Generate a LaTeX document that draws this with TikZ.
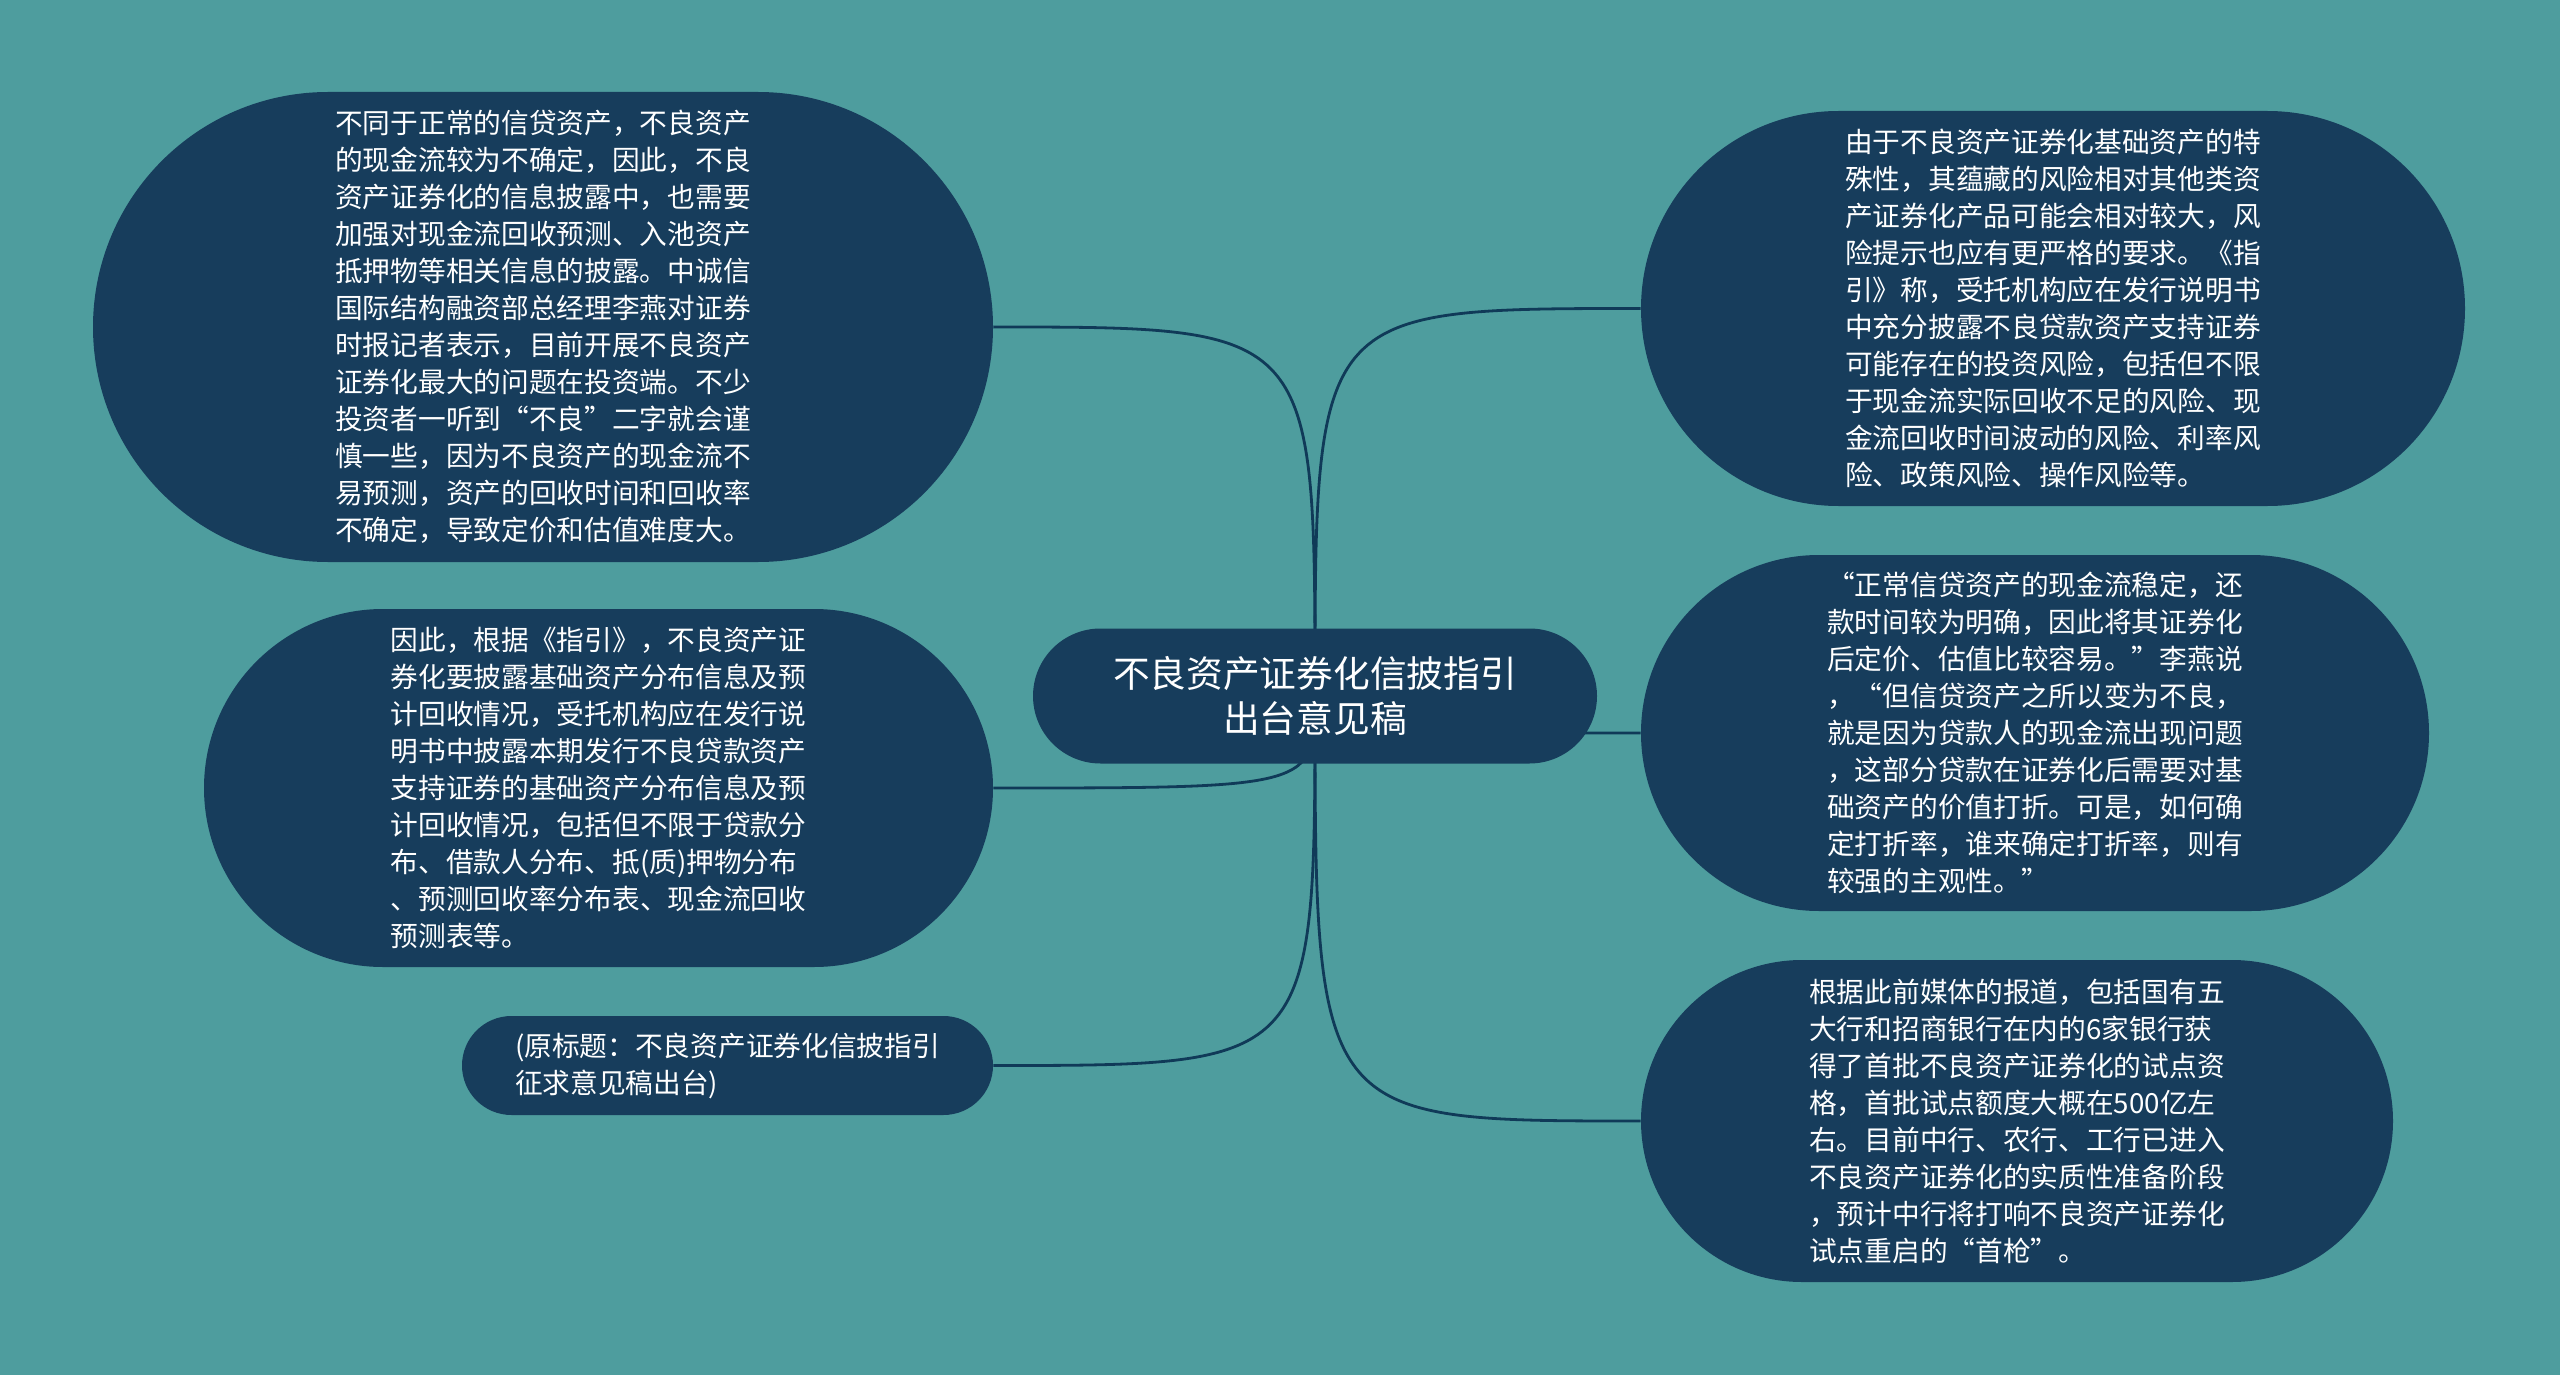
\documentclass[tikz,border=0pt]{standalone}
\usepackage{fontspec}
\newfontfamily\cjk{Noto Sans CJK SC}
\definecolor{bgteal}{RGB}{78,157,158}
\definecolor{nodeblue}{RGB}{23,61,92}
\definecolor{linkblue}{RGB}{16,58,88}
\pgfdeclarelayer{bglayer}
\pgfdeclarelayer{links}
\pgfsetlayers{bglayer,links,main}
\tikzset{every picture/.style={line width=0.75pt}}
\tikzset{
  topic/.style={fill=nodeblue, text=white, align=left, inner sep=0pt, font=\cjk\fontsize{13.85pt}{18.5pt}\selectfont},
  root/.style={topic, align=center, font=\cjk\fontsize{18.35pt}{22.5pt}\selectfont},
  link/.style={draw=linkblue, line width=1.4pt}
}

\begin{document}
\begin{tikzpicture}[x=0.5pt,y=0.5pt,yscale=-1,xscale=1]
%Background
\begin{pgfonlayer}{bglayer}
\fill[bgteal] (0,0) rectangle (2560,1375);
\end{pgfonlayer}
\useasboundingbox (0,0) rectangle (2560,1375);
%Shape: Central topic
\node[root, minimum width=282pt, minimum height=67.5pt, rounded corners=33.75pt] (draft) at (1315,696) {不良资产证券化信披指引\\出台意见稿};
%Shape: Left stadiums
\node[topic, minimum width=450pt, minimum height=235pt, rounded corners=117.5pt] (pricing) at (543,327) {不同于正常的信贷资产，不良资产\\的现金流较为不确定，因此，不良\\资产证券化的信息披露中，也需要\\加强对现金流回收预测、入池资产\\抵押物等相关信息的披露。中诚信\\国际结构融资部总经理李燕对证券\\时报记者表示，目前开展不良资产\\证券化最大的问题在投资端。不少\\投资者一听到“不良”二字就会谨\\慎一些，因为不良资产的现金流不\\易预测，资产的回收时间和回收率\\不确定，导致定价和估值难度大。};
\node[topic, minimum width=394.5pt, minimum height=179pt, rounded corners=89.5pt] (disclose) at (598.5,788) {因此，根据《指引》，不良资产证\\券化要披露基础资产分布信息及预\\计回收情况，受托机构应在发行说\\明书中披露本期发行不良贷款资产\\支持证券的基础资产分布信息及预\\计回收情况，包括但不限于贷款分\\布、借款人分布、抵(质)押物分布\\、预测回收率分布表、现金流回收\\预测表等。};
\node[topic, minimum width=265.5pt, minimum height=49.5pt, rounded corners=24.75pt] (title) at (727.5,1065.5) {(原标题：不良资产证券化信披指引\\征求意见稿出台)};
%Shape: Right stadiums
\node[topic, minimum width=412pt, minimum height=197.5pt, rounded corners=98.75pt] (risk) at (2053,308.5) {由于不良资产证券化基础资产的特\\殊性，其蕴藏的风险相对其他类资\\产证券化产品可能会相对较大，风\\险提示也应有更严格的要求。《指\\引》称，受托机构应在发行说明书\\中充分披露不良贷款资产支持证券\\可能存在的投资风险，包括但不限\\于现金流实际回收不足的风险、现\\金流回收时间波动的风险、利率风\\险、政策风险、操作风险等。};
\node[topic, minimum width=394pt, minimum height=178pt, rounded corners=89pt] (quote) at (2035,733) {“正常信贷资产的现金流稳定，还\\款时间较为明确，因此将其证券化\\后定价、估值比较容易。”李燕说\\，“但信贷资产之所以变为不良，\\就是因为贷款人的现金流出现问题\\，这部分贷款在证券化后需要对基\\础资产的价值打折。可是，如何确\\定打折率，谁来确定打折率，则有\\较强的主观性。”};
\node[topic, minimum width=376pt, minimum height=161pt, rounded corners=80.5pt] (pilot) at (2017,1121) {根据此前媒体的报道，包括国有五\\大行和招商银行在内的6家银行获\\得了首批不良资产证券化的试点资\\格，首批试点额度大概在500亿左\\右。目前中行、农行、工行已进入\\不良资产证券化的实质性准备阶段\\，预计中行将打响不良资产证券化\\试点重启的“首枪”。};
%Curves
\begin{pgfonlayer}{links}
\draw[link] (draft.center) .. controls (draft.center |- pricing.east) .. (pricing.east);
\draw[link] (draft.center) .. controls (draft.center |- disclose.east) .. (disclose.east);
\draw[link] (draft.center) .. controls (draft.center |- title.east) .. (title.east);
\draw[link] (draft.center) .. controls (draft.center |- risk.west) .. (risk.west);
\draw[link] (draft.center) .. controls (draft.center |- quote.west) .. (quote.west);
\draw[link] (draft.center) .. controls (draft.center |- pilot.west) .. (pilot.west);
\end{pgfonlayer}
\end{tikzpicture}
\end{document}
